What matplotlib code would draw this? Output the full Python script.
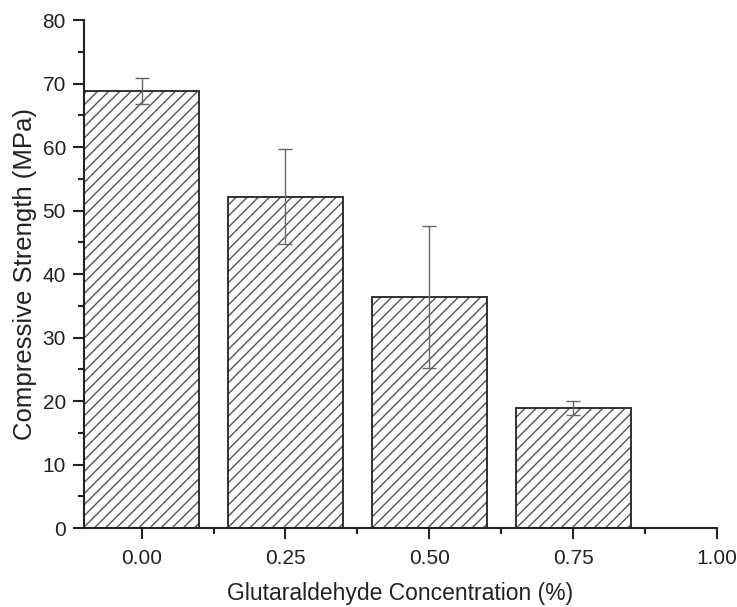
import matplotlib
matplotlib.use("Agg")
import matplotlib.pyplot as plt
from matplotlib.ticker import MultipleLocator

concentration = [0.00, 0.25, 0.50, 0.75]
strength = [68.8, 52.2, 36.4, 18.9]
strength_err = [2.0, 7.5, 11.2, 1.1]
xticks = [0.00, 0.25, 0.50, 0.75, 1.00]
xticklabels = ["0.00", "0.25", "0.50", "0.75", "1.00"]

plt.rcParams['font.family'] = ['Liberation Sans', 'DejaVu Sans']
plt.rcParams['hatch.linewidth'] = 1.0

fig = plt.figure(figsize=(7.37, 6.07), dpi=100)
ax = fig.add_axes([0.114, 0.130, 0.859, 0.837])

ax.bar(concentration, strength, width=0.2, color='white', edgecolor='#555555',
       hatch='///', linewidth=0, zorder=2)
ax.bar(concentration, strength, width=0.2, fill=False, edgecolor='#222222',
       linewidth=1.3, zorder=3)
ax.errorbar(concentration, strength, yerr=strength_err, fmt='none',
            ecolor='#666666', elinewidth=1.0, capsize=5, capthick=1.0, zorder=4)

ax.set_xlim(-0.1, 1.0)
ax.set_ylim(0, 80)
ax.set_xticks(xticks)
ax.set_xticklabels(xticklabels)
ax.xaxis.set_minor_locator(MultipleLocator(0.125))
ax.yaxis.set_major_locator(MultipleLocator(10))
ax.yaxis.set_minor_locator(MultipleLocator(5))

for s in ['top', 'right']:
    ax.spines[s].set_visible(False)
for s in ['left', 'bottom']:
    ax.spines[s].set_linewidth(1.5)
    ax.spines[s].set_color('#222222')

ax.tick_params(which='major', direction='out', length=8, width=1.5, labelsize=15, colors='#222222')
ax.tick_params(which='minor', direction='out', length=4, width=1.5, colors='#222222')
ax.tick_params(axis='x', pad=7)
ax.tick_params(axis='y', pad=5)

ax.set_xlabel("Glutaraldehyde Concentration (%)", fontsize=16.5, labelpad=10, color='#222222')
ax.set_ylabel("Compressive Strength (MPa)", fontsize=18.5, labelpad=4, color='#222222')

fig.savefig("out.png", dpi=100)
